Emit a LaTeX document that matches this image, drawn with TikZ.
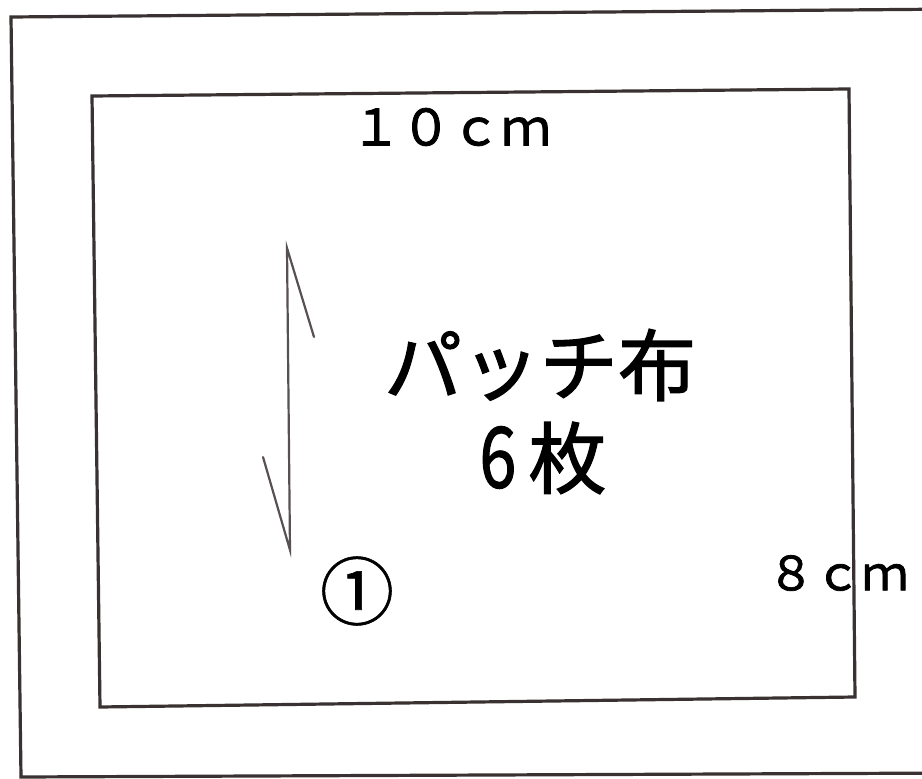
\documentclass[tikz,border=0pt]{standalone}
\usepackage{fontspec}
\newfontfamily\jp[FakeBold=1.6]{Noto Sans CJK JP}
\newfontfamily\jpc[FakeBold=0.8]{Noto Sans CJK JP}
\definecolor{ink}{HTML}{3A3232}
\tikzset{
  frame/.style={draw=ink, line width=3.2pt, line join=miter},
  grain/.style={draw=ink!85, line width=2.2pt, line cap=round},
  lbl/.style={inner sep=0pt, text=black, font=\jp}
}
\begin{document}
\begin{tikzpicture}[x=1pt, y=-1pt]
\useasboundingbox (0,0) rectangle (922,779);
\fill[white] (0,0) rectangle (922,779);
\begin{scope}
\clip (0,0) rectangle (922,779);
% outer paper outline
\draw[frame] (960,9) -- (11,17) -- (21,777) -- (960,773);
% inner patch outline
\draw[frame] (92,96) -- (849,89) -- (855,697) -- (100,707) -- cycle;
\end{scope}
% grain arrow
\coordinate (gt) at (287,248);
\coordinate (gb) at (290,550);
\coordinate (gtb) at (314,337);
\coordinate (gbb) at (263,457);
\draw[grain] (gtb) -- (gt) -- (gb) -- (gbb);
% labels
\node[lbl, font=\jp\fontsize{50}{56}\selectfont] (w) at (451,127) {１０ｃｍ};
\node[lbl, font=\jp\fontsize{47}{52}\selectfont] (h) at (838,573) {８ｃｍ};
\node[lbl, font=\jp\fontsize{78}{86}\selectfont] (t1) at (540,365) {パッチ布};
\node[lbl, font=\jp\fontsize{78}{86}\selectfont] (t2) at (543,458) {\scalebox{0.85}[1.08]{6}\hspace{12pt}枚};
\node[lbl, font=\jpc\fontsize{74}{80}\selectfont] (n1) at (357,591) {①};
\end{tikzpicture}
\end{document}
